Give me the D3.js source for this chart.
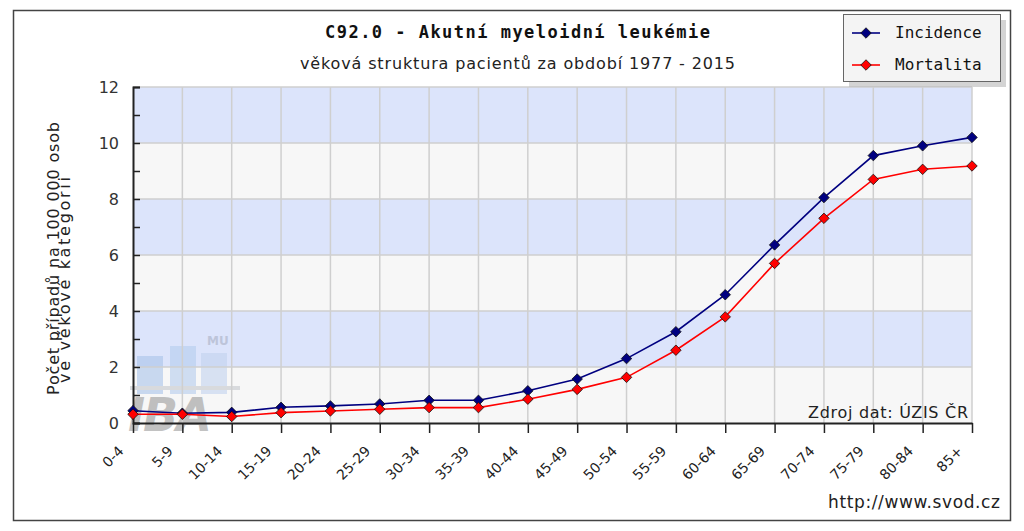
<!DOCTYPE html>
<html>
<head>
<meta charset="utf-8">
<script src="https://cdn.jsdelivr.net/npm/d3@7"></script>
<style>
  body { margin: 0; background: #fff; }
</style>
</head>
<body>
<div id="chart"></div>
<script>
// Data
const ageGroups = ["0-4", "5-9", "10-14", "15-19", "20-24", "25-29", "30-34", "35-39", "40-44",
                   "45-49", "50-54", "55-59", "60-64", "65-69", "70-74", "75-79", "80-84", "85+"];
const incidence = [0.44, 0.35, 0.38, 0.56, 0.61, 0.68, 0.81, 0.81, 1.15,
                   1.57, 2.30, 3.26, 4.58, 6.36, 8.05, 9.55, 9.90, 10.20];
const mortalita = [0.31, 0.31, 0.23, 0.37, 0.43, 0.49, 0.55, 0.55, 0.85,
                   1.20, 1.63, 2.60, 3.79, 5.70, 7.31, 8.70, 9.06, 9.18];
const yTicks = [0, 2, 4, 6, 8, 10, 12];

const series = [
    { name: "Incidence", values: incidence, color: "#000080" },
    { name: "Mortalita", values: mortalita, color: "#ff0000" }
];

const SANS = "DejaVu Sans, sans-serif";
const MONO = "DejaVu Sans Mono, monospace";

const W = 1024, H = 531;
const svg = d3.select("#chart").append("svg")
    .attr("width", W).attr("height", H)
    .style("font-family", SANS);

// Outer frame
svg.append("rect")
    .attr("x", 13.5).attr("y", 10.5).attr("width", 997).attr("height", 510)
    .attr("fill", "#fff").attr("stroke", "#444").attr("stroke-width", 1.5);

// Scales
const x = d3.scalePoint().domain(ageGroups).range([133, 972]);
const y = d3.scaleLinear().domain([0, 12]).range([423, 87]);

// Background bands
const bands = d3.range(0, 12, 2);
svg.append("g").selectAll("rect")
    .data(bands)
    .enter().append("rect")
    .attr("x", x.range()[0])
    .attr("width", x.range()[1] - x.range()[0])
    .attr("y", d => y(d + 2))
    .attr("height", d => y(d) - y(d + 2))
    .attr("fill", (d, i) => i % 2 === 0 ? "#f7f7f7" : "#dce4fb");

// Watermark logo (IBA MU)
const logo = svg.append("g").attr("opacity", 0.6);
logo.append("rect").attr("x", 137).attr("y", 356).attr("width", 26).attr("height", 38).attr("fill", "#a9c4ea");
logo.append("rect").attr("x", 170).attr("y", 346).attr("width", 26).attr("height", 48).attr("fill", "#b5cdee");
logo.append("rect").attr("x", 201).attr("y", 353).attr("width", 26).attr("height", 41).attr("fill", "#c2d3ef");
logo.append("rect").attr("x", 130).attr("y", 386).attr("width", 110).attr("height", 4).attr("fill", "#c4c7cc");
logo.append("text").attr("x", 128).attr("y", 431)
    .attr("font-size", 46).attr("font-weight", "bold").attr("font-style", "italic")
    .attr("fill", "#9a9a9a").attr("letter-spacing", -2).text("IBA");
logo.append("text").attr("x", 207).attr("y", 345)
    .attr("font-size", 12).attr("font-weight", "bold")
    .attr("fill", "#aab0c4").text("MU");

// Horizontal gridlines
svg.append("g").selectAll("line")
    .data(yTicks.slice(1))
    .enter().append("line")
    .attr("x1", x.range()[0]).attr("x2", x.range()[1])
    .attr("y1", d => y(d)).attr("y2", d => y(d))
    .attr("stroke", "#cfcfcf").attr("stroke-width", 1.5);

// Vertical gridlines
svg.append("g").selectAll("line")
    .data(ageGroups.slice(1))
    .enter().append("line")
    .attr("x1", d => x(d)).attr("x2", d => x(d))
    .attr("y1", y(12)).attr("y2", y(0))
    .attr("stroke", "#cfcfcf").attr("stroke-width", 1.5);

// Source note inside plot
svg.append("text")
    .attr("x", 968).attr("y", 418)
    .attr("text-anchor", "end")
    .attr("font-size", 16).attr("fill", "#222")
    .attr("textLength", 160).attr("lengthAdjust", "spacing")
    .text("Zdroj dat: ÚZIS ČR");

// Y axis
const yAxis = svg.append("g")
    .attr("transform", `translate(${x.range()[0]},0)`)
    .call(d3.axisLeft(y).tickValues(d3.range(0, 13, 1)).tickSize(-7).tickPadding(14)
        .tickFormat(d => d % 2 === 0 ? d : ""));
yAxis.select(".domain").attr("stroke", "#222").attr("stroke-width", 2);
yAxis.selectAll(".tick line").attr("stroke", "#222").attr("stroke-width", 1.5);
yAxis.selectAll(".tick text").attr("font-size", 16).attr("fill", "#333")
    .attr("font-family", SANS);

// X axis
const xAxis = svg.append("g")
    .attr("transform", `translate(0,${y(0)})`)
    .call(d3.axisBottom(x).tickSize(10).tickSizeOuter(0));
xAxis.select(".domain").attr("stroke", "#222").attr("stroke-width", 2);
xAxis.selectAll(".tick line").attr("stroke", "#222").attr("stroke-width", 1.5);
xAxis.selectAll(".tick text")
    .attr("font-size", 14).attr("fill", "#222")
    .attr("font-family", SANS)
    .attr("text-anchor", "end")
    .attr("dy", null).attr("y", 0)
    .attr("transform", "translate(-9,29) rotate(-45)");

// Lines and markers
const line = d3.line()
    .x((d, i) => x(ageGroups[i]))
    .y(d => y(d));

const diamond = d3.symbol().type(d3.symbolDiamond2).size(70);

series.forEach(s => {
    svg.append("path")
        .datum(s.values)
        .attr("fill", "none")
        .attr("stroke", s.color)
        .attr("stroke-width", 1.6)
        .attr("d", line);
    svg.append("g").selectAll("path")
        .data(s.values)
        .enter().append("path")
        .attr("d", diamond)
        .attr("transform", (d, i) => `translate(${x(ageGroups[i])},${y(d)})`)
        .attr("fill", s.color)
        .attr("stroke", "#111")
        .attr("stroke-width", 0.8);
});

// Title
svg.append("text")
    .attr("x", 325).attr("y", 38)
    .style("font-family", MONO)
    .attr("font-weight", "bold").attr("font-size", 17).attr("fill", "#111")
    .attr("textLength", 385).attr("lengthAdjust", "spacing")
    .text("C92.0 - Akutní myeloidní leukémie");
svg.append("text")
    .attr("x", 300).attr("y", 69)
    .attr("font-size", 16).attr("fill", "#222")
    .attr("textLength", 435).attr("lengthAdjust", "spacing")
    .text("věková struktura pacientů za období 1977 - 2015");

// Y axis title
svg.append("text")
    .attr("transform", "translate(59,395) rotate(-90)")
    .attr("font-size", 16).attr("fill", "#222")
    .attr("textLength", 273).attr("lengthAdjust", "spacing")
    .text("Počet případů na 100 000 osob");
svg.append("text")
    .attr("transform", "translate(70,383) rotate(-90)")
    .attr("font-size", 16).attr("fill", "#222")
    .attr("textLength", 206).attr("lengthAdjust", "spacing")
    .text("ve věkové kategorii");

// Footer link
svg.append("text")
    .attr("x", 1000).attr("y", 508)
    .attr("text-anchor", "end")
    .attr("font-size", 17).attr("fill", "#222")
    .attr("textLength", 172).attr("lengthAdjust", "spacing")
    .text("http://www.svod.cz");

// Legend
const legend = svg.append("g");
legend.append("rect")
    .attr("x", 849).attr("y", 20).attr("width", 157).attr("height", 67)
    .attr("fill", "#b8b8b8").attr("opacity", 0.6);
legend.append("rect")
    .attr("x", 843.5).attr("y", 14.5).attr("width", 157).attr("height", 67)
    .attr("fill", "#f4f4f4").attr("stroke", "#666").attr("stroke-width", 1);
series.forEach((s, i) => {
    const ly = 33 + i * 32;
    legend.append("line")
        .attr("x1", 852).attr("x2", 880).attr("y1", ly).attr("y2", ly)
        .attr("stroke", s.color).attr("stroke-width", 1.6);
    legend.append("path")
        .attr("d", diamond)
        .attr("transform", `translate(866,${ly})`)
        .attr("fill", s.color).attr("stroke", "#111").attr("stroke-width", 0.8);
    legend.append("text")
        .attr("x", 895).attr("y", ly + 5)
        .style("font-family", MONO)
        .attr("font-size", 16).attr("fill", "#111")
        .text(s.name);
});
</script>
</body>
</html>
